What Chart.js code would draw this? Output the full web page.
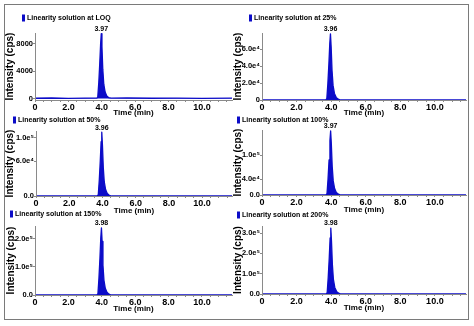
<!DOCTYPE html>
<html>
<head>
<meta charset="utf-8">
<script src="https://cdn.jsdelivr.net/npm/chart.js@4/dist/chart.umd.min.js"></script>
<style>
  html, body { margin: 0; padding: 0; background: #fff; }
  #wrap { position: relative; width: 474px; height: 326px; overflow: hidden; }
  #frame { position: absolute; left: 4px; top: 4px; width: 463px; height: 314px; border: 1.5px solid #7a7a7a; }
  #wrap canvas { position: absolute; left: 0; top: 0; }
</style>
</head>
<body>
<div id="wrap">
  <div id="frame"></div>
  <canvas id="p1" width="474" height="326"></canvas>
  <canvas id="p2" width="474" height="326"></canvas>
  <canvas id="p3" width="474" height="326"></canvas>
  <canvas id="p4" width="474" height="326"></canvas>
  <canvas id="p5" width="474" height="326"></canvas>
  <canvas id="p6" width="474" height="326"></canvas>
</div>
<script>
// sample names
const runLabels = [
  'Linearity solution at LOQ',
  'Linearity solution at 25%',
  'Linearity solution at 50%',
  'Linearity solution at 100%',
  'Linearity solution at 150%',
  'Linearity solution at 200%'
];

// retention time axis
const timeTicks = [0, 2, 4, 6, 8, 10];
const timeTickText = ['0', '2.0', '4.0', '6.0', '8.0', '10.0'];

// chromatograms: time (min) / intensity (cps)
const timeLOQ = [0, 1.0, 2.0, 3.0, 3.70, 3.76, 3.82, 3.88, 3.93, 3.97, 4.01, 4.06, 4.12, 4.20, 4.30, 4.42, 4.55, 5.5, 7.0, 8.5, 10.0, 11.8];
const intLOQ  = [40, 70, 30, 60, 50, 200, 2300, 5200, 8000, 9500, 7600, 4300, 2100, 950, 380, 120, 50, 70, 40, 60, 30, 50];

const time25 = [0, 3.69, 3.75, 3.81, 3.87, 3.92, 3.96, 4.00, 4.05, 4.11, 4.19, 4.29, 4.41, 4.54, 11.8];
const int25  = [0, 0, 1600, 19500, 42900, 66300, 78000, 62400, 35100, 17200, 7800, 3100, 940, 0, 0];

const time50 = [0, 3.69, 3.75, 3.81, 3.87, 3.92, 3.96, 4.00, 4.05, 4.11, 4.19, 4.29, 4.41, 4.54, 11.8];
const int50  = [0, 0, 2200, 27500, 60500, 93500, 110000, 88000, 49500, 24200, 11000, 4400, 1300, 0, 0];

const time100 = [0, 3.70, 3.76, 3.82, 3.88, 3.93, 3.97, 4.01, 4.06, 4.12, 4.20, 4.30, 4.42, 4.55, 11.8];
const int100  = [0, 0, 3200, 40000, 88000, 136000, 160000, 128000, 72000, 35200, 16000, 6400, 1900, 0, 0];

const time150 = [0, 3.71, 3.77, 3.83, 3.89, 3.94, 3.98, 4.02, 4.07, 4.13, 4.21, 4.31, 4.43, 4.56, 11.8];
const int150  = [0, 0, 4800, 60000, 131000, 203000, 239000, 191000, 107000, 52600, 23900, 9600, 2900, 0, 0];

const time200 = [0, 3.71, 3.77, 3.83, 3.89, 3.94, 3.98, 4.02, 4.07, 4.13, 4.21, 4.31, 4.43, 4.56, 11.8];
const int200  = [0, 0, 6500, 81000, 179000, 276000, 325000, 260000, 146000, 71500, 32500, 13000, 3900, 0, 0];

// intensity ticks per panel
const ticksLOQ = [0, 4000, 8000];
const textLOQ  = ['0', '4000', '8000'];
const ticks25  = [0, 20000, 40000, 60000];
const text25   = ['0', '2.0e\u2074', '4.0e\u2074', '6.0e\u2074'];
const ticks50  = [0, 60000, 100000];
const text50   = ['0.0', '6.0e\u2074', '1.0e\u2075'];
const ticks100 = [0, 40000, 100000];
const text100  = ['0.0', '4.0e\u2074', '1.0e\u2075'];
const ticks150 = [0, 100000, 200000];
const text150  = ['0.0', '1.0e\u2075', '2.0e\u2075'];
const ticks200 = [0, 100000, 200000, 300000];
const text200  = ['0.0', '1.0e\u2075', '2.0e\u2075', '3.0e\u2075'];

const BLUE = '#0c0cc8';
const AXIS = '#8a8a8a';
const FONT = "'Liberation Sans', Arial, sans-serif";
const W = 474, H = 326;

// small blue key + sample name above each panel
const keyPlugin = {
  id: 'runKey',
  afterDraw(chart, args, opts) {
    const ctx = chart.ctx;
    const ds = chart.data.datasets[0];
    ctx.save();
    ctx.fillStyle = ds.borderColor;
    ctx.fillRect(opts.x, opts.y - 3.5, 3, 7);
    ctx.fillStyle = '#000';
    ctx.font = 'bold 7px ' + FONT;
    ctx.textBaseline = 'middle';
    ctx.textAlign = 'left';
    ctx.fillText(ds.label, opts.x + 5, opts.y);
    ctx.restore();
  }
};

// retention time written over the apex
const apexPlugin = {
  id: 'apexLabel',
  afterDatasetsDraw(chart) {
    const ds = chart.data.datasets[0];
    let top = 0;
    ds.data.forEach((p, i) => { if (p.y > ds.data[top].y) top = i; });
    const el = chart.getDatasetMeta(0).data[top];
    const ctx = chart.ctx;
    ctx.save();
    ctx.fillStyle = '#000';
    ctx.font = 'bold 7px ' + FONT;
    ctx.textAlign = 'center';
    ctx.textBaseline = 'bottom';
    ctx.fillText(ds.data[top].x.toFixed(2), el.x, el.y - 1);
    ctx.restore();
  }
};

function panel(id, label, times, values, ticks, text, yMin, yMax, box) {
  const xBottom = box.titleY + 4.8;
  new Chart(document.getElementById(id), {
    type: 'line',
    data: {
      datasets: [{
        label: label,
        data: times.map((t, i) => ({ x: t, y: values[i] })),
        borderColor: BLUE,
        backgroundColor: BLUE,
        borderWidth: 1.3,
        borderJoinStyle: 'round',
        fill: 'origin',
        pointRadius: 0,
        tension: 0
      }]
    },
    options: {
      responsive: false,
      animation: false,
      layout: { padding: { left: box.axisLeft, top: box.top, right: W - box.right, bottom: H - xBottom } },
      plugins: {
        legend: { display: false },
        tooltip: { enabled: false },
        runKey: { x: box.keyX, y: box.keyY }
      },
      scales: {
        x: {
          type: 'linear',
          min: 0,
          max: 11.8,
          afterFit(s) { s.height = xBottom - box.bottom; },
          grid: { display: true, drawOnChartArea: false, tickLength: 2, color: AXIS, z: 1 },
          border: { color: AXIS, width: 1, z: 1 },
          ticks: {
            stepSize: 0.5,
            includeBounds: false,
            autoSkip: false,
            maxRotation: 0,
            minRotation: 0,
            padding: 0,
            color: '#000',
            font: { family: FONT, size: 9, weight: 'bold' },
            callback: (v) => {
              const k = timeTicks.indexOf(v);
              return k >= 0 ? timeTickText[k] : '';
            }
          },
          title: { display: true, text: 'Time (min)', color: '#000', padding: 0,
                   font: { family: FONT, size: 8, weight: 'bold' } }
        },
        y: {
          min: yMin,
          max: yMax,
          afterFit(s) { s.width = box.left - box.axisLeft; },
          afterBuildTicks(s) { s.ticks = ticks.map(v => ({ value: v })); },
          grid: { display: true, drawOnChartArea: false, tickLength: 2, color: AXIS, z: 1 },
          border: { color: AXIS, width: 1, z: 1 },
          ticks: {
            padding: 0,
            color: '#000',
            font: { family: FONT, size: 7.5, weight: 'bold' },
            callback: (v, i) => text[i]
          },
          title: { display: true, text: 'Intensity (cps)', color: '#000', padding: 0,
                   font: { family: FONT, size: 10, weight: 'bold', lineHeight: 1 } }
        }
      }
    },
    plugins: [keyPlugin, apexPlugin]
  });
}

panel('p1', runLabels[0], timeLOQ, intLOQ, ticksLOQ, textLOQ, -220, 9600,
  { axisLeft: 5, left: 35, right: 232, top: 33, bottom: 100, titleY: 113, keyX: 22, keyY: 18 });
panel('p2', runLabels[1], time25, int25, ticks25, text25, 0, 79000,
  { axisLeft: 233, left: 262, right: 466, top: 33, bottom: 100, titleY: 113, keyX: 249, keyY: 18 });
panel('p3', runLabels[2], time50, int50, ticks50, text50, 0, 112000,
  { axisLeft: 5, left: 36, right: 232, top: 131, bottom: 196, titleY: 211, keyX: 13, keyY: 120 });
panel('p4', runLabels[3], time100, int100, ticks100, text100, 0, 162500,
  { axisLeft: 233, left: 262, right: 466, top: 130, bottom: 195, titleY: 210, keyX: 237, keyY: 120 });
panel('p5', runLabels[4], time150, int150, ticks150, text150, 0, 246000,
  { axisLeft: 6, left: 35, right: 232, top: 226, bottom: 295, titleY: 309, keyX: 10, keyY: 214 });
panel('p6', runLabels[5], time200, int200, ticks200, text200, 0, 335000,
  { axisLeft: 233, left: 262, right: 466, top: 226, bottom: 294, titleY: 308, keyX: 237, keyY: 215 });
</script>
</body>
</html>
